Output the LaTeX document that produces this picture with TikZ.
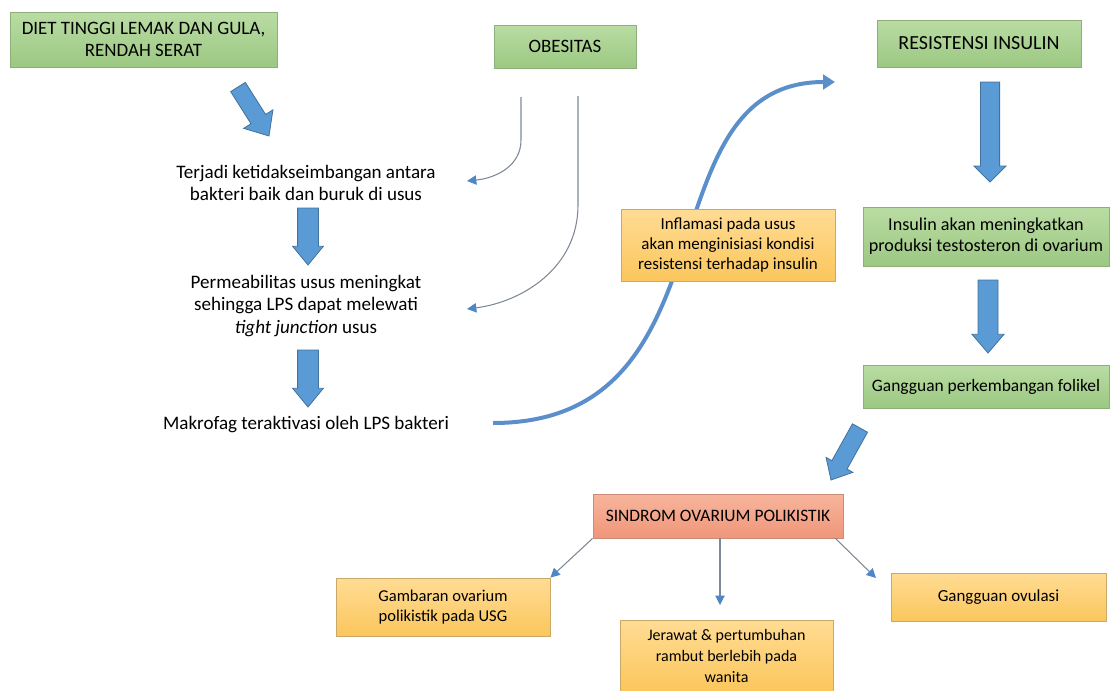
\documentclass[tikz,border=0pt]{standalone}
\usepackage{fontspec}
\setmainfont{Carlito}
\usetikzlibrary{arrows.meta,calc}

\definecolor{fatblue}{HTML}{5B9BD5}
\definecolor{fatedge}{HTML}{41719C}
\definecolor{greentop}{HTML}{B9DCA3}
\definecolor{greenbot}{HTML}{9CC882}
\definecolor{greenedge}{HTML}{8FAF7A}
\definecolor{orangetop}{HTML}{FFDC94}
\definecolor{orangebot}{HTML}{FBC65C}
\definecolor{orangeedge}{HTML}{C9A86A}
\definecolor{salmontop}{HTML}{F7B59C}
\definecolor{salmonbot}{HTML}{F0967A}
\definecolor{salmonedge}{HTML}{C88C78}
\definecolor{linegray}{HTML}{7F8896}
\definecolor{tipblue}{HTML}{4F86C6}
\definecolor{curveblue}{HTML}{5B8FCB}

\newcommand\pxu{0.75pt}

% block arrow between two named coordinates:
% #1 tail, #2 tip, #3 half shaft, #4 half head, #5 head length
\newcommand\fatarrow[5]{%
  \draw[fatstyle] let \p1=(#1), \p2=(#2),
    \n1={atan2(\y2-\y1,\x2-\x1)}, \n2={veclen(\x2-\x1,\y2-\y1)} in
    [shift={(\p1)}, rotate=\n1]
    (0pt,-#3) -- ({\n2*1pt-#5},-#3) -- ({\n2*1pt-#5},-#4) -- ({\n2*1pt},0pt)
    -- ({\n2*1pt-#5},#4) -- ({\n2*1pt-#5},#3) -- (0pt,#3) -- cycle;}

\newcommand\fs[2]{\fontsize{#1}{#2}\selectfont}

\tikzset{
  box/.style={line width=0.6pt, align=center, inner sep=2pt},
  greenbox/.style={box, draw=greenedge, top color=greentop, bottom color=greenbot},
  orangebox/.style={box, draw=orangeedge, top color=orangetop, bottom color=orangebot},
  salmonbox/.style={box, draw=salmonedge, top color=salmontop, bottom color=salmonbot},
  capsfont/.style={font=\fs{14.2}{16.5}},
  textfont/.style={font=\fs{14.3}{16.7}},
  plain/.style={align=center, inner sep=0pt},
  fatstyle/.style={fill=fatblue, draw=fatedge, line width=0.6pt, line join=miter},
  thinarrow/.style={draw=linegray, line width=0.8pt,
    -{Triangle[length=7pt,width=7pt,color=tipblue]}},
  bigcurve/.style={draw=curveblue, line width=3pt,
    -{Triangle[length=9pt,width=11pt,color=curveblue]}}
}

\begin{document}
\begin{tikzpicture}[x=0.75pt, y=-0.75pt]
\useasboundingbox (0,0) rectangle (1110,690);

% ---- top row boxes ----
\node[greenbox, capsfont, minimum width=267*\pxu, minimum height=55*\pxu] (diet) at (143.5,39.5)
  {DIET TINGGI LEMAK DAN GULA,\\ RENDAH SERAT};
\node[greenbox, capsfont, minimum width=142*\pxu, minimum height=43*\pxu] (obes) at (565,46.5)
  {OBESITAS};
\node[greenbox, font=\fs{15}{17}, minimum width=204*\pxu, minimum height=47*\pxu] (resist) at (979,43.5)
  {RESISTENSI INSULIN};

% ---- left chain (plain text) ----
\node[plain, textfont] (imbal) at (306,183)
  {Terjadi ketidakseimbangan antara\\ bakteri baik dan buruk di usus};
\node[plain, textfont] (perm) at (306,306)
  {Permeabilitas usus meningkat\\ sehingga LPS dapat melewati\\ \textit{tight junction} usus};
\node[plain, textfont] (makro) at (306,425)
  {Makrofag teraktivasi oleh LPS bakteri};

% ---- block arrows ----
\coordinate (a1s) at (238,87);   \coordinate (a1e) at (269,136);
\coordinate (a2s) at (308,208);  \coordinate (a2e) at (308,265);
\coordinate (a3s) at (308,350);  \coordinate (a3e) at (308,407);
\coordinate (a4s) at (990,82);   \coordinate (a4e) at (990,182);
\coordinate (a5s) at (988,280);  \coordinate (a5e) at (988,353);
\coordinate (a6s) at (860,428);  \coordinate (a6e) at (831,480);
\fatarrow{a1s}{a1e}{6.5pt}{13pt}{15pt}
\fatarrow{a2s}{a2e}{7.8pt}{11.5pt}{14pt}
\fatarrow{a3s}{a3e}{7.8pt}{11.5pt}{14pt}
\fatarrow{a4s}{a4e}{7.2pt}{12pt}{12pt}
\fatarrow{a5s}{a5e}{7.5pt}{12pt}{14pt}
\fatarrow{a6s}{a6e}{6.5pt}{11.5pt}{13pt}

% ---- thin curved arrows from obesity ----
\coordinate (o1) at (521,97);
\coordinate (o2) at (578,96);
\coordinate (imbalR) at (467,181);
\coordinate (permR) at (467,309);
\draw[thinarrow] (o1) -- (521,140) .. controls (521,166) and (496,178) .. (imbalR);
\draw[thinarrow] (o2) -- (578,205) .. controls (578,268) and (522,302) .. (permR);

% ---- big S-shaped arrow ----
\coordinate (cs) at (493,423);
\coordinate (ce) at (835,82);
\draw[bigcurve] (cs) .. controls (740,423) and (640,82) .. (ce);

% ---- right chain ----
\node[orangebox, font=\fs{12.7}{15}, minimum width=214*\pxu, minimum height=72*\pxu] (infl) at (728,245)
  {Inflamasi pada usus\\ akan menginisiasi kondisi\\ resistensi terhadap insulin};
\node[greenbox, font=\fs{13.6}{15.8}, minimum width=246*\pxu, minimum height=59*\pxu] (testo) at (986,236.5)
  {Insulin akan meningkatkan\\ produksi testosteron di ovarium};
\node[greenbox, font=\fs{13.1}{15.5}, minimum width=246*\pxu, minimum height=43*\pxu] (foli) at (986,386.5)
  {Gangguan perkembangan folikel};

% ---- outcome ----
\node[salmonbox, font=\fs{13.1}{15.5}, minimum width=250*\pxu, minimum height=44*\pxu] (sop) at (718,516)
  {SINDROM OVARIUM POLIKISTIK};
\node[orangebox, font=\fs{12.4}{15.5}, minimum width=214*\pxu, minimum height=58*\pxu] (usg) at (443,607)
  {Gambaran ovarium\\ polikistik pada USG};
\node[orangebox, font=\fs{12}{15.5}, minimum width=213*\pxu, minimum height=72*\pxu] (acne) at (726.5,656)
  {Jerawat \& pertumbuhan\\ rambut berlebih pada\\ wanita};
\node[orangebox, font=\fs{12.7}{15.5}, minimum width=215*\pxu, minimum height=48*\pxu] (ovul) at (998.5,597)
  {Gangguan ovulasi};

\coordinate (acnein) at (720,605);
\coordinate (ovulin) at (876,578);
\draw[thinarrow] (sop.south west) -- (usg.north east);
\draw[thinarrow] (sop.south -| acnein) -- (acnein);
\draw[thinarrow] ([xshift=-8*\pxu]sop.south east) -- (ovulin);

\end{tikzpicture}
\end{document}
